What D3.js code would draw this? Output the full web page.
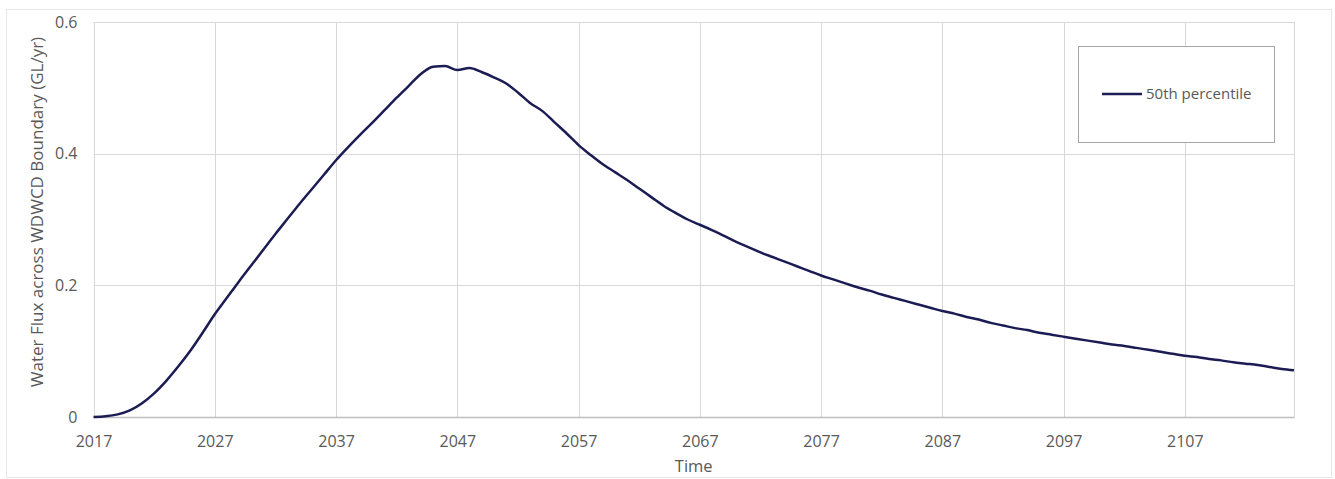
<!DOCTYPE html>
<html>
<head>
<meta charset="utf-8">
<script src="https://cdn.jsdelivr.net/npm/d3@7"></script>
<style>
  html, body { margin: 0; padding: 0; background: #ffffff; }
  svg { display: block; }
  text { font-family: "Open Sans", "Noto Sans", sans-serif; fill: #595959; }
</style>
</head>
<body>
<svg id="chart" width="1335" height="479"></svg>
<script>
// ---- Data ----
const years = d3.range(2017, 2117);
const p50 = [
  0.000, 0.001, 0.004, 0.010, 0.021, 0.036, 0.055, 0.077, 0.101, 0.128,
  0.156, 0.181, 0.206, 0.230, 0.254, 0.278, 0.301, 0.324, 0.346, 0.368,
  0.390, 0.410, 0.429, 0.447, 0.466, 0.485, 0.503, 0.521, 0.532, 0.533,
  0.527, 0.530, 0.524, 0.516, 0.507, 0.493, 0.477, 0.465, 0.448, 0.431,
  0.413, 0.398, 0.384, 0.372, 0.360, 0.347, 0.334, 0.321, 0.310, 0.300,
  0.292, 0.284, 0.275, 0.266, 0.258, 0.250, 0.243, 0.236, 0.229, 0.222,
  0.215, 0.209, 0.203, 0.197, 0.192, 0.186, 0.181, 0.176, 0.171, 0.166,
  0.161, 0.157, 0.152, 0.148, 0.143, 0.139, 0.135, 0.132, 0.128, 0.125,
  0.122, 0.119, 0.116, 0.113, 0.110, 0.108, 0.105, 0.102, 0.099, 0.096,
  0.093, 0.091, 0.088, 0.086, 0.083, 0.081, 0.079, 0.076, 0.073, 0.071
];
const xTicks = [2017, 2027, 2037, 2047, 2057, 2067, 2077, 2087, 2097, 2107];
const yTicks = [0, 0.2, 0.4, 0.6];
const seriesName = "50th percentile";
const xTitle = "Time";
const yTitle = "Water Flux across WDWCD Boundary (GL/yr)";

// ---- Layout ----
const svg = d3.select("#chart");
const plot = { left: 93.5, right: 1294, top: 22, bottom: 417 };

// outer chart border
svg.append("rect")
  .attr("x", 6.5).attr("y", 9.5).attr("width", 1325).attr("height", 468)
  .attr("fill", "none").attr("stroke", "#e6e6e6").attr("stroke-width", 1);

const x = d3.scaleLinear().domain([2017, 2116]).range([plot.left, plot.right]);
const y = d3.scaleLinear().domain([0, 0.6]).range([plot.bottom, plot.top]);

// vertical gridlines
svg.append("g")
  .selectAll("line")
  .data(xTicks.concat([2116]))
  .join("line")
  .attr("x1", d => Math.round(x(d)) + 0.5).attr("x2", d => Math.round(x(d)) + 0.5)
  .attr("y1", plot.top).attr("y2", plot.bottom)
  .attr("stroke", "#d9d9d9").attr("stroke-width", 1);

// horizontal gridlines
svg.append("g")
  .selectAll("line")
  .data(yTicks.filter(d => d > 0))
  .join("line")
  .attr("x1", plot.left).attr("x2", plot.right)
  .attr("y1", d => Math.round(y(d)) + 0.5).attr("y2", d => Math.round(y(d)) + 0.5)
  .attr("stroke", "#d9d9d9").attr("stroke-width", 1);

// x axis
const xAxis = d3.axisBottom(x).tickValues(xTicks).tickFormat(d3.format("d")).tickSize(0).tickPadding(19);
const gx = svg.append("g").attr("transform", `translate(0,${plot.bottom})`).call(xAxis);
gx.select(".domain").attr("stroke", "#bfbfbf").attr("stroke-width", 1.5);
gx.selectAll("text").style("font-size", "16px").attr("fill", "#595959").attr("font-family", null);

// y axis labels
const yAxis = d3.axisLeft(y).tickValues(yTicks).tickFormat(d => d === 0 ? "0" : d3.format(".1f")(d)).tickSize(0).tickPadding(16);
const gy = svg.append("g").attr("transform", `translate(${plot.left},0)`).call(yAxis);
gy.select(".domain").remove();
gy.selectAll("text").style("font-size", "16px").attr("fill", "#595959").attr("font-family", null);

// line
const line = d3.line()
  .x((d, i) => x(years[i]))
  .y(d => y(d))
  .curve(d3.curveMonotoneX);
svg.append("path")
  .datum(p50)
  .attr("d", line)
  .attr("fill", "none")
  .attr("stroke", "#1c1c54")
  .attr("stroke-width", 2.5)
  .attr("stroke-linejoin", "round");

// axis titles
svg.append("text")
  .attr("x", (plot.left + plot.right) / 2).attr("y", 472)
  .attr("text-anchor", "middle")
  .style("font-size", "16.5px")
  .text(xTitle);

svg.append("text")
  .attr("transform", `translate(43,212) rotate(-90)`)
  .attr("text-anchor", "middle")
  .style("font-size", "17px")
  .text(yTitle);

// legend
const lg = svg.append("g");
lg.append("rect")
  .attr("x", 1078.5).attr("y", 46.5).attr("width", 196).attr("height", 96)
  .attr("fill", "#ffffff").attr("stroke", "#a6a6a6").attr("stroke-width", 1);
lg.append("line")
  .attr("x1", 1102).attr("x2", 1142).attr("y1", 94).attr("y2", 94)
  .attr("stroke", "#1c1c54").attr("stroke-width", 2.5);
lg.append("text")
  .attr("x", 1146).attr("y", 94).attr("dy", "0.35em")
  .style("font-size", "15px")
  .text(seriesName);
</script>
</body>
</html>
